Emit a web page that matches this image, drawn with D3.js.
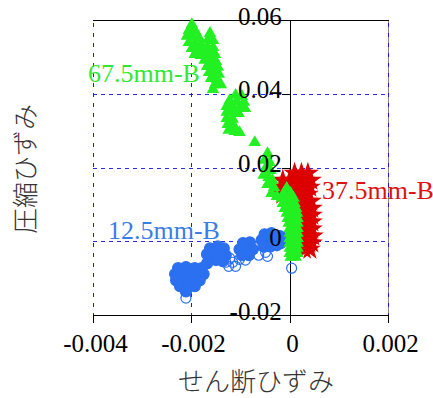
<!DOCTYPE html>
<html><head><meta charset="utf-8">
<script src="https://cdn.jsdelivr.net/npm/d3@7"></script>
<style>
html,body{margin:0;padding:0;background:#fff;}
svg{display:block;}
</style></head>
<body><svg id="c" width="433" height="398"></svg>
<script>
// ---- data ----
const xTicks = [-0.004, -0.002, 0, 0.002];
const xTickLabels = ["-0.004", "-0.002", "0", "0.002"];
const yTicks = [0.06, 0.04, 0.02, 0, -0.02];
const yTickLabels = ["0.06", "0.04", "0.02", "0", "-0.02"];
const xTitle = "せん断ひずみ";
const yTitle = "圧縮ひずみ";
const seriesNames = ["12.5mm-B", "37.5mm-B", "67.5mm-B"];

// 67.5mm-B (shear strain, compressive strain)
const points67 = [
 [-0.00199,0.0588],[-0.00205,0.0572],[-0.00193,0.0572],[-0.00209,0.0556],[-0.00197,0.0556],[-0.00185,0.0553],
 [-0.00205,0.0539],[-0.00193,0.0537],[-0.00181,0.0534],[-0.00199,0.0523],[-0.00187,0.0520],[-0.00175,0.0518],
 [-0.00193,0.0507],[-0.00181,0.0504],[-0.00168,0.0504],[-0.00162,0.0564],[-0.00166,0.0547],[-0.00156,0.0545],
 [-0.00168,0.0528],[-0.00156,0.0526],[-0.00162,0.0509],[-0.00152,0.0507],[-0.00173,0.0491],[-0.00160,0.0491],
 [-0.00150,0.0488],[-0.00168,0.0474],[-0.00156,0.0472],[-0.00146,0.0472],[-0.00164,0.0458],[-0.00152,0.0455],
 [-0.00144,0.0453],[-0.00160,0.0442],[-0.00148,0.0439],[-0.00152,0.0425],[-0.00140,0.0425],[-0.00156,0.0412],
 [-0.00110,0.0396],[-0.00097,0.0393],[-0.00122,0.0382],[-0.00108,0.0379],[-0.00093,0.0377],[-0.00128,0.0366],
 [-0.00116,0.0366],[-0.00102,0.0363],[-0.00091,0.0360],[-0.00128,0.0350],[-0.00116,0.0350],[-0.00104,0.0347],
 [-0.00128,0.0333],[-0.00116,0.0331],[-0.00126,0.0317],[-0.00114,0.0314],[-0.00124,0.0301],[-0.00112,0.0298],
 [-0.00102,0.0295],[-0.00071,0.0268],[-0.00045,0.0238],[-0.00051,0.0220],[-0.00041,0.0214],[-0.00049,0.0198],
 [-0.00039,0.0192],[-0.00053,0.0179],[-0.00043,0.0173],[-0.00035,0.0165],[-0.00045,0.0154],[-0.00032,0.0146],
 [-0.00037,0.0130],[-0.00026,0.0122],
 [-0.00006,0.0144],[-0.00012,0.0130],[0.00002,0.0130],[-0.00016,0.0117],[-0.00002,0.0117],[0.00008,0.0117],
 [-0.00014,0.0103],[0.0,0.0103],[0.0001,0.0103],[-0.0001,0.0089],[0.00003,0.0089],[0.00013,0.0089],
 [-0.00006,0.0076],[0.00005,0.0076],[0.00015,0.0076],[-0.00004,0.0062],[0.00007,0.0062],[0.00016,0.0062],
 [-0.00002,0.0049],[0.00008,0.0049],[0.00016,0.0049],[0.0,0.0035],[0.00009,0.0035],[0.00016,0.0035],
 [0.0,0.0022],[0.0001,0.0022],[0.00016,0.0022],[0.0,0.0008],[0.0001,0.0008],[0.00016,0.0008],
 [0.0,-0.0005],[0.0001,-0.0005],[0.00016,-0.0005],[0.0,-0.0019],[0.0001,-0.0019],[0.00016,-0.0019],
 [0.0,-0.0033],[0.0001,-0.0033],[0.00016,-0.0033],[0.00002,-0.0043],[0.00012,-0.0043]
];

// 37.5mm-B
const points37 = [
 [0.0001,0.0184],[0.00024,0.0184],[0.00037,0.0184],
 [-0.00014,0.0165],[0.0,0.0165],[0.00016,0.0165],[0.0003,0.0165],[0.00043,0.0165],
 [-0.00016,0.0146],[0.0,0.0146],[0.00016,0.0146],[0.0003,0.0146],[0.00041,0.0146],
 [-0.00014,0.0127],[0.00014,0.0127],[0.00028,0.0127],[0.00037,0.0127],
 [0.0,0.0108],[0.0002,0.0108],[0.00035,0.0108],[0.00043,0.0108],
 [0.0002,0.0089],[0.00032,0.0089],[0.00045,0.0089],
 [0.00024,0.0070],[0.00037,0.0070],[0.00045,0.0070],
 [0.00026,0.0052],[0.00037,0.0052],[0.00045,0.0052],
 [0.00026,0.0033],[0.00037,0.0033],[0.00045,0.0033],
 [0.00028,0.0014],[0.00039,0.0014],[0.00047,0.0014],
 [0.00028,-0.0005],[0.00039,-0.0005],[0.00045,-0.0005],
 [0.0003,-0.0022],[0.00041,-0.0022]
];

// 12.5mm-B (dense part of the clusters)
const points12 = [
 [-0.00227,-0.0073],[-0.00211,-0.0070],[-0.00193,-0.0073],[-0.00179,-0.0073],
 [-0.00233,-0.0089],[-0.00217,-0.0089],[-0.00201,-0.0089],[-0.00185,-0.0089],[-0.00175,-0.0089],
 [-0.00231,-0.0106],[-0.00215,-0.0106],[-0.00199,-0.0106],[-0.00183,-0.0106],
 [-0.00223,-0.0122],[-0.00207,-0.0122],[-0.00193,-0.0122],[-0.00211,-0.0136],[-0.00168,-0.0060],
 [-0.00162,-0.0019],[-0.00146,-0.0014],[-0.00134,-0.0019],[-0.00168,-0.0035],[-0.00154,-0.0035],
 [-0.00140,-0.0035],[-0.00130,-0.0038],[-0.00164,-0.0051],[-0.00150,-0.0051],[-0.00136,-0.0054],
 [-0.00095,-0.0005],[-0.00081,-0.0003],[-0.00102,-0.0022],[-0.00087,-0.0022],[-0.00075,-0.0022],
 [-0.00097,-0.0038],[-0.00083,-0.0038],
 [-0.00051,0.0019],[-0.00037,0.0022],[-0.00057,0.0003],[-0.00043,0.0003],[-0.00028,0.0005],
 [-0.00053,-0.0014],[-0.00039,-0.0014],[-0.00026,-0.0011],[-0.00020,0.0014],[-0.00018,-0.0005],[-0.0001,0.0008]
];
// 12.5mm-B (isolated points)
const points12Sparse = [
 [-0.00211,-0.0154],[-0.00122,-0.0046],[-0.00116,-0.0057],[-0.00110,-0.0068],[-0.00124,-0.0068],[-0.0013,-0.0057],
 [-0.00102,-0.0049],[-0.0009,-0.0051],[-0.00049,-0.0030],[-0.00045,-0.0041],[-0.00063,-0.0038],[0.00004,-0.0073]
];

// ---- drawing ----
const svg = d3.select("#c");
const x = d3.scaleLinear().domain([-0.004, 0.002]).range([93, 388]);
const y = d3.scaleLinear().domain([-0.02, 0.06]).range([315, 20]);
const serif = "'Liberation Serif','Times New Roman',serif";
const jp = "'Noto Sans CJK JP','Noto Sans CJK SC',sans-serif";
const gridColor = "#2a2ae8";
const px = v => Math.round(v) + 0.5;

// grid
const g = svg.append("g");
[0.04, 0.02, 0].forEach(v => g.append("line")
  .attr("x1", x(-0.004)).attr("x2", x(0.002)).attr("y1", px(y(v))).attr("y2", px(y(v)))
  .attr("stroke", gridColor).attr("stroke-dasharray", "4,4").attr("stroke-width", 1));
g.append("line").attr("x1", px(x(0.002))).attr("x2", px(x(0.002))).attr("y1", y(0.06)).attr("y2", y(-0.02))
  .attr("stroke", "#888").attr("stroke-width", 1);
[-0.004, -0.002, 0.002].forEach(v => g.append("line")
  .attr("x1", px(x(v))).attr("x2", px(x(v))).attr("y1", y(0.06) + 3).attr("y2", y(-0.02))
  .attr("stroke", "#1a1af0").attr("stroke-dasharray", "4,6").attr("stroke-width", 1));
// top frame
g.append("line").attr("x1", x(-0.004)).attr("x2", x(0.002) + 1).attr("y1", px(y(0.06))).attr("y2", px(y(0.06)))
  .attr("stroke", "#000").attr("stroke-width", 1);

// x axis
const xa = svg.append("g").attr("transform", `translate(0,${Math.round(y(-0.02))})`)
  .call(d3.axisBottom(x).tickValues(xTicks).tickSize(8).tickPadding(11)
    .tickFormat((d, i) => xTickLabels[i]));
xa.select(".domain").attr("d", `M${x(-0.004)},0.5H${x(0.002) + 1}`).attr("stroke", "#000");
xa.selectAll(".tick").attr("transform", d => `translate(${px(x(d))},0)`);
xa.selectAll(".tick line").attr("stroke", "#000").attr("x1", 0).attr("x2", 0);
xa.selectAll("text").attr("font-family", serif).attr("font-size", 25).attr("fill", "#000").attr("dx", 2);

// y axis at x = 0
const ya = svg.append("g").attr("transform", `translate(${Math.round(x(0))},0)`)
  .call(d3.axisLeft(y).tickValues(yTicks).tickSize(8).tickPadding(0)
    .tickFormat((d, i) => yTickLabels[i]));
ya.select(".domain").attr("d", `M0.5,${y(0.06)}V${y(-0.02) + 8}`).attr("stroke", "#000");
ya.selectAll(".tick").attr("transform", d => `translate(0,${px(y(d))})`);
ya.selectAll(".tick line").attr("stroke", "#000").attr("y1", 0).attr("y2", 0);
ya.selectAll("text").remove();

// data
const blue = "#2b70f0", red = "#dd0000", green = "#22f022";
svg.append("g").selectAll("circle").data(points12).join("circle")
  .attr("cx", d => x(d[0])).attr("cy", d => y(d[1])).attr("r", 5.5)
  .attr("fill", blue).attr("stroke", blue).attr("stroke-width", 1.2);
svg.append("g").selectAll("circle").data(points12Sparse).join("circle")
  .attr("cx", d => x(d[0])).attr("cy", d => y(d[1])).attr("r", 5)
  .attr("fill", "none").attr("stroke", blue).attr("stroke-width", 1.2);
const star = d3.symbol().type(d3.symbolStar).size(150);
svg.append("g").selectAll("path").data(points37).join("path")
  .attr("transform", d => `translate(${x(d[0])},${y(d[1])})`).attr("d", star).attr("fill", red);
const tri = d3.symbol().type(d3.symbolTriangle).size(68);
svg.append("g").selectAll("path").data(points67).join("path")
  .attr("transform", d => `translate(${x(d[0])},${y(d[1])})`).attr("d", tri).attr("fill", green);

// y tick labels on top
svg.append("g").selectAll("text").data(yTicks).join("text")
  .attr("x", x(0) - 8).attr("y", d => y(d) + 4.5)
  .attr("text-anchor", "end").attr("font-family", serif).attr("font-size", 25).attr("fill", "#000")
  .text((d, i) => yTickLabels[i]);

// series labels
svg.append("text").attr("x", 88).attr("y", 82).attr("font-family", serif).attr("font-size", 26)
  .attr("fill", "#33e833").text(seriesNames[2]);
svg.append("text").attr("x", 322).attr("y", 199).attr("font-family", serif).attr("font-size", 26)
  .attr("fill", "#dd1111").text(seriesNames[1]);
svg.append("text").attr("x", 108).attr("y", 239).attr("font-family", serif).attr("font-size", 26)
  .attr("fill", "#3a7de6").text(seriesNames[0]);

// axis titles
svg.append("text").attr("x", 256).attr("y", 391).attr("text-anchor", "middle")
  .attr("font-family", jp).attr("font-weight", 300).attr("font-size", 26).attr("fill", "#333").text(xTitle);
svg.append("text").attr("transform", "translate(35,169) rotate(-90)").attr("text-anchor", "middle")
  .attr("font-family", jp).attr("font-weight", 300).attr("font-size", 26).attr("fill", "#333").text(yTitle);
</script></body></html>
